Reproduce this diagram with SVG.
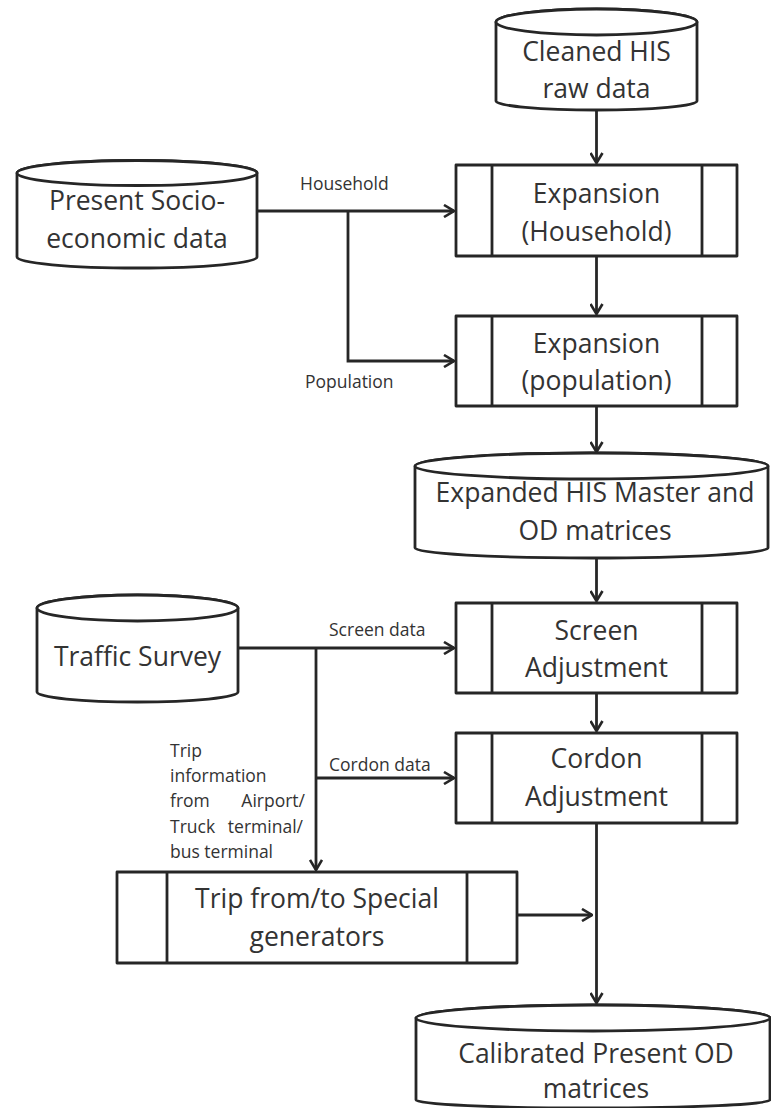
<svg xmlns="http://www.w3.org/2000/svg" width="771" height="1108" viewBox="0 0 771 1108">
<style>
.shape{fill:#fff;stroke:#262626;stroke-width:2.8;stroke-linejoin:round}
.line{fill:none;stroke:#262626;stroke-width:2.8}
.main{font-family:"Open Sans","Liberation Sans",sans-serif;font-size:26.5px;fill:#333;text-anchor:middle}
.lbl{font-family:"Open Sans","Liberation Sans",sans-serif;font-size:17.5px;fill:#333}
</style>
<defs>
<marker id="arr" viewBox="0 0 12 14" refX="11" refY="7" markerWidth="12" markerHeight="14" markerUnits="userSpaceOnUse" orient="auto">
<path d="M1,1 L11,7 L1,13" fill="none" stroke="#262626" stroke-width="2.6"/>
</marker>
</defs>
<rect width="771" height="1108" fill="#fff"/>

<g id="connectors">
<path class="line" d="M596.5,110 V163" marker-end="url(#arr)"/>
<path class="line" d="M257,211 H454" marker-end="url(#arr)"/>
<path class="line" d="M348,211 V361 H454" marker-end="url(#arr)"/>
<path class="line" d="M596.5,256 V314" marker-end="url(#arr)"/>
<path class="line" d="M596.5,406 V452" marker-end="url(#arr)"/>
<path class="line" d="M596.5,558 V601" marker-end="url(#arr)"/>
<path class="line" d="M238,648 H454" marker-end="url(#arr)"/>
<path class="line" d="M316,648 V870" marker-end="url(#arr)"/>
<path class="line" d="M316,778 H454" marker-end="url(#arr)"/>
<path class="line" d="M596.5,693 V731" marker-end="url(#arr)"/>
<path class="line" d="M596.5,823 V1003" marker-end="url(#arr)"/>
<path class="line" d="M517,915 H592" marker-end="url(#arr)"/>
<text class="lbl" x="300" y="190">Household</text>
<text class="lbl" x="305" y="388">Population</text>
<text class="lbl" x="329" y="636">Screen data</text>
<text class="lbl" x="329" y="771">Cordon data</text>
<text class="lbl" x="170" y="757">Trip</text>
<text class="lbl" x="170" y="782">information</text>
<text class="lbl" x="170" y="807">from</text>
<text class="lbl" x="305" y="807" text-anchor="end">Airport/</text>
<text class="lbl" x="170" y="833">Truck</text>
<text class="lbl" x="303" y="833" text-anchor="end">terminal/</text>
<text class="lbl" x="170" y="858">bus terminal</text>
</g>

<g id="cleaned-his">
<path class="shape" d="M496,22 A100.5,13 0 0 1 697,22 V101 A100.5,9 0 0 1 496,101 Z"/>
<ellipse class="shape" cx="596.5" cy="22" rx="100.5" ry="13"/>
<text class="main" x="596.5" y="61">Cleaned HIS</text>
<text class="main" x="596.5" y="98">raw data</text>
</g>

<g id="socio-economic">
<path class="shape" d="M17,173 A120,12.5 0 0 1 257,173 V257 A120,11 0 0 1 17,257 Z"/>
<ellipse class="shape" cx="137" cy="173" rx="120" ry="12.5"/>
<text class="main" x="137" y="210">Present Socio-</text>
<text class="main" x="137" y="248">economic data</text>
</g>

<g id="expansion-household">
<rect class="shape" x="456" y="165" width="281" height="91"/>
<path class="line" d="M492,165 V256 M702,165 V256"/>
<text class="main" x="596.5" y="203">Expansion</text>
<text class="main" x="596.5" y="241">(Household)</text>
</g>

<g id="expansion-population">
<rect class="shape" x="456" y="316" width="281" height="90"/>
<path class="line" d="M492,316 V406 M702,316 V406"/>
<text class="main" x="596.5" y="353">Expansion</text>
<text class="main" x="596.5" y="390">(population)</text>
</g>

<g id="expanded-his">
<path class="shape" d="M415,466 A176.5,13 0 0 1 768,466 V548 A176.5,10 0 0 1 415,548 Z"/>
<ellipse class="shape" cx="591.5" cy="466" rx="176.5" ry="13"/>
<text class="main" x="595" y="502">Expanded HIS Master and</text>
<text class="main" x="595" y="540">OD matrices</text>
</g>

<g id="traffic-survey">
<path class="shape" d="M37,608 A100.5,13 0 0 1 238,608 V692 A100.5,10 0 0 1 37,692 Z"/>
<ellipse class="shape" cx="137.5" cy="608" rx="100.5" ry="13"/>
<text class="main" x="137.5" y="666">Traffic Survey</text>
</g>

<g id="screen-adjustment">
<rect class="shape" x="456" y="603" width="281" height="90"/>
<path class="line" d="M492,603 V693 M702,603 V693"/>
<text class="main" x="596.5" y="640">Screen</text>
<text class="main" x="596.5" y="677">Adjustment</text>
</g>

<g id="cordon-adjustment">
<rect class="shape" x="456" y="733" width="281" height="90"/>
<path class="line" d="M492,733 V823 M702,733 V823"/>
<text class="main" x="596.5" y="768">Cordon</text>
<text class="main" x="596.5" y="806">Adjustment</text>
</g>

<g id="special-generators">
<rect class="shape" x="117" y="872" width="400" height="91"/>
<path class="line" d="M167,872 V963 M467,872 V963"/>
<text class="main" x="317" y="908">Trip from/to Special</text>
<text class="main" x="317" y="946">generators</text>
</g>

<g id="calibrated-od">
<path class="shape" d="M416,1018 A177,13 0 0 1 770,1018 V1100 A177,8 0 0 1 416,1100 Z"/>
<ellipse class="shape" cx="593" cy="1018" rx="177" ry="13"/>
<text class="main" x="596" y="1063">Calibrated Present OD</text>
<text class="main" x="596" y="1098">matrices</text>
</g>
</svg>
